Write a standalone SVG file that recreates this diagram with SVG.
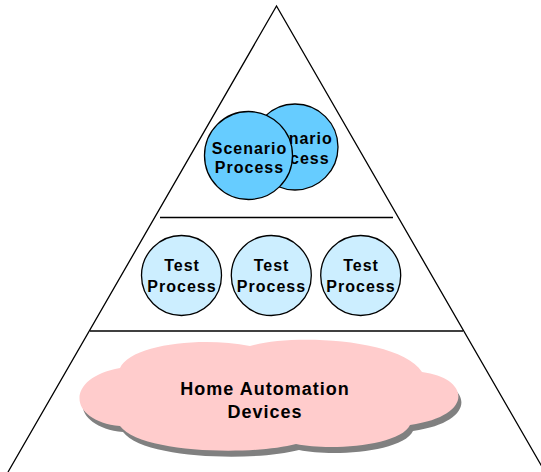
<svg xmlns="http://www.w3.org/2000/svg" width="541" height="472" viewBox="0 0 541 472">
<style>
.ln{stroke:#000;stroke-width:1.3;fill:none}
.scn{fill:#66CCFF;stroke:#000;stroke-width:1.3}
.tst{fill:#CCEEFF;stroke:#000;stroke-width:1.3}
.t{font-family:"Liberation Sans",Arial,sans-serif;font-weight:bold;font-size:16px;letter-spacing:1px;text-anchor:middle;fill:#000}
.big{font-size:18px}
</style>
<defs>
<path id="cloud" d="M120 368 C130 345 200 336 250 346 C290 334 400 338 422 372 C470 378 475 416 410 425 C400 446 330 451 296 444 C250 456 140 453 120 426 C68 421 64 378 120 368 Z"/>
</defs>
<g id="connectors">
<path class="ln" d="M8 472 L276.5 6 L545 472"/>
<line class="ln" x1="160" y1="217.5" x2="393" y2="217.5"/>
<line class="ln" x1="90" y1="331" x2="463" y2="331"/>
</g>
<g id="scenario-back">
<circle class="scn" cx="295" cy="147" r="43"/>
<text class="t" x="295" y="144">Scenario</text>
<text class="t" x="295" y="164">Process</text>
</g>
<g id="scenario-front">
<circle class="scn" cx="248.5" cy="155.5" r="44"/>
<text class="t" x="249.5" y="154">Scenario</text>
<text class="t" x="249.5" y="173">Process</text>
</g>
<g id="test1">
<circle class="tst" cx="181.5" cy="275.5" r="40"/>
<text class="t" x="182" y="271">Test</text>
<text class="t" x="182" y="292">Process</text>
</g>
<g id="test2">
<circle class="tst" cx="271.3" cy="275.5" r="40"/>
<text class="t" x="271.5" y="271">Test</text>
<text class="t" x="271.5" y="292">Process</text>
</g>
<g id="test3">
<circle class="tst" cx="360.7" cy="275.5" r="40"/>
<text class="t" x="361" y="271">Test</text>
<text class="t" x="361" y="292">Process</text>
</g>
<g id="devices">
<use href="#cloud" transform="translate(3,6)" fill="#808080"/>
<use href="#cloud" fill="#FFCCCC"/>
<text class="t big" x="265" y="395">Home Automation</text>
<text class="t big" x="265" y="418">Devices</text>
</g>
</svg>
